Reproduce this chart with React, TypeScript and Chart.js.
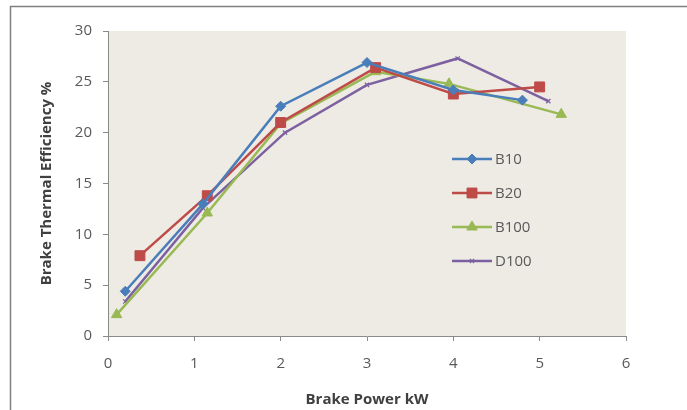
import React, { useEffect, useRef } from "react";
import { Chart, registerables } from "chart.js";
import { drawPoint } from "chart.js/helpers";

Chart.register(...registerables);

const seriesNames = ["B10", "B20", "B100", "D100"];
const b10X = [0.2, 1.1, 2.0, 3.0, 4.0, 4.8];
const b10Y = [4.4, 13.0, 22.6, 26.9, 24.2, 23.2];
const b20X = [0.37, 1.15, 2.0, 3.1, 4.0, 5.0];
const b20Y = [7.9, 13.8, 21.0, 26.4, 23.8, 24.5];
const b100X = [0.1, 1.15, 2.0, 3.1, 3.95, 5.25];
const b100Y = [2.1, 12.1, 20.9, 26.0, 24.8, 21.8];
const d100X = [0.2, 1.1, 2.05, 3.0, 4.05, 5.1];
const d100Y = [3.4, 12.6, 20.0, 24.7, 27.3, 23.1];
const colors = ["#4A7EBB", "#BE4B48", "#98B954", "#7D60A0"];
const pointStyles = ["rectRot", "rect", "triangle", "crossRot"];
const pointRadii = [5, 7, 6, 3];

const xTitle = "Brake Power kW";
const yTitle = "Brake Thermal Efficiency %";

const toPts = (xs: number[], ys: number[]) => xs.map((x, i) => ({ x, y: ys[i] }));

const FONT = "'Open Sans', 'Liberation Sans', sans-serif";

export default function App() {
  const ref = useRef<HTMLCanvasElement>(null);
  useEffect(() => {
    if (!ref.current) return;
    const xsAll = [b10X, b20X, b100X, d100X];
    const ysAll = [b10Y, b20Y, b100Y, d100Y];
    const datasets = seriesNames.map((name, i) => ({
      label: name,
      data: toPts(xsAll[i], ysAll[i]),
      borderColor: colors[i],
      backgroundColor: colors[i],
      borderWidth: 2.5,
      pointStyle: pointStyles[i] as any,
      pointRadius: pointRadii[i],
      pointBorderWidth: i === 3 ? 1.2 : 1,
      showLine: true,
      tension: 0,
    }));

    const framePlugin = {
      id: "frame",
      beforeDraw(chart: any) {
        const { ctx, chartArea } = chart;
        ctx.save();
        ctx.fillStyle = "#ffffff";
        ctx.fillRect(0, 0, chart.width, chart.height);
        ctx.strokeStyle = "#808080";
        ctx.lineWidth = 1.5;
        ctx.beginPath();
        ctx.moveTo(10.5, chart.height);
        ctx.lineTo(10.5, 6.5);
        ctx.lineTo(chart.width, 6.5);
        ctx.stroke();
        ctx.fillStyle = "#EDEBE4";
        ctx.fillRect(chartArea.left, chartArea.top, chartArea.right - chartArea.left, chartArea.bottom - chartArea.top);
        ctx.restore();
      },
    };

    const legendPlugin = {
      id: "customLegend",
      afterDraw(chart: any) {
        const ctx = chart.ctx;
        ctx.save();
        const x0 = 452;
        const x1 = 492;
        const ys = [159, 193, 227, 261];
        seriesNames.forEach((name, i) => {
          const y = ys[i];
          ctx.strokeStyle = colors[i];
          ctx.fillStyle = colors[i];
          ctx.lineWidth = 2.5;
          ctx.beginPath();
          ctx.moveTo(x0, y);
          ctx.lineTo(x1, y);
          ctx.stroke();
          ctx.lineWidth = i === 3 ? 1.2 : 1;
          drawPoint(
            ctx,
            { pointStyle: pointStyles[i], radius: pointRadii[i], borderWidth: i === 3 ? 1.2 : 1 } as any,
            (x0 + x1) / 2,
            y
          );
          ctx.fillStyle = "#595959";
          ctx.font = `15px ${FONT}`;
          ctx.textBaseline = "middle";
          ctx.textAlign = "left";
          ctx.fillText(name, x1 + 3, y + 1);
        });
        ctx.restore();
      },
    };

    const chart = new Chart(ref.current, {
      type: "scatter",
      data: { datasets: datasets as any },
      plugins: [framePlugin, legendPlugin],
      options: {
        responsive: false,
        animation: false,
        layout: { padding: { left: 0, top: 31, right: 61, bottom: 0 } },
        plugins: {
          legend: { display: false },
          tooltip: { enabled: false },
        },
        scales: {
          x: {
            type: "linear",
            min: 0,
            max: 6,
            ticks: { stepSize: 1, color: "#595959", font: { family: FONT, size: 15 }, padding: 14 },
            grid: { drawOnChartArea: false, drawTicks: true, tickLength: 5, color: "#8a8a8a" },
            border: { display: true, color: "#8a8a8a", width: 1 },
            title: {
              display: true,
              text: xTitle,
              color: "#404040",
              font: { family: FONT, size: 15, weight: "bold" },
              padding: { top: 0, bottom: 1 },
            },
            afterFit(scale: any) {
              scale.height = 74;
            },
          },
          y: {
            type: "linear",
            min: 0,
            max: 30,
            ticks: { stepSize: 5, color: "#595959", font: { family: FONT, size: 15 }, padding: 11 },
            grid: { drawOnChartArea: false, drawTicks: true, tickLength: 5, color: "#8a8a8a" },
            border: { display: true, color: "#8a8a8a", width: 1 },
            title: {
              display: true,
              text: yTitle,
              color: "#404040",
              font: { family: FONT, size: 15, weight: "bold" },
              padding: { top: 38, bottom: 0 },
            },
            afterFit(scale: any) {
              scale.width = 108;
            },
          },
        },
      },
    });
    return () => chart.destroy();
  }, []);

  return (
    <div style={{ position: "fixed", left: 0, top: 0, width: 687, height: 410, background: "#fff" }}>
      <canvas ref={ref} width={687} height={410} style={{ display: "block", width: 687, height: 410 }} />
    </div>
  );
}
